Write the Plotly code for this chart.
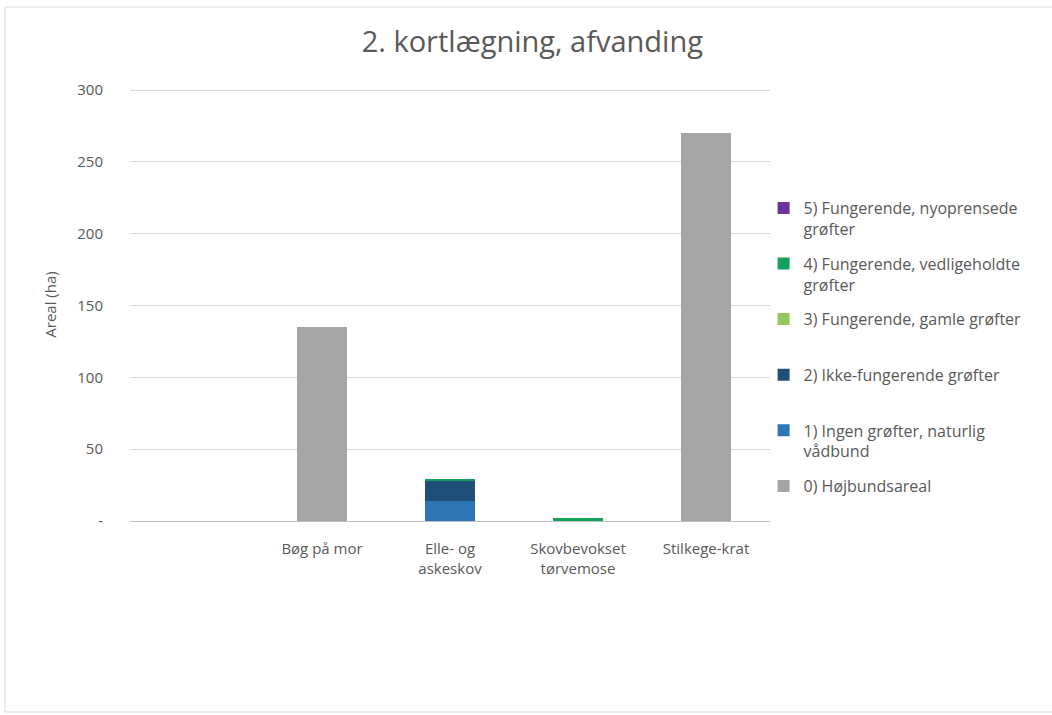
import plotly.graph_objects as go

# Naturtyper (første kategori er tom i kildearket)
categories = ["", "Bøg på mor", "Elle- og<br>askeskov", "Skovbevokset<br>tørvemose", "Stilkege-krat"]

# Areal (ha) pr. afvandingsklasse
hojbund = [0, 135, 0, 0, 270]
ingen_grofter = [0, 0, 14, 0, 0]
ikke_fungerende = [0, 0, 14, 0, 0]
fung_gamle = [0, 0, 0, 0, 0]
fung_vedligeholdte = [0, 0, 0.8, 2, 0]
fung_nyoprensede = [0, 0, 0, 0, 0]

y_ticks = [0, 50, 100, 150, 200, 250, 300]
y_ticktext = ["-", "50", "100", "150", "200", "250", "300"]

series = [
    ("0) Højbundsareal<br> ", hojbund, "#a5a5a5"),
    ("1) Ingen grøfter, naturlig<br>vådbund", ingen_grofter, "#2e75b6"),
    ("2) Ikke-fungerende grøfter<br> ", ikke_fungerende, "#1f4e79"),
    ("3) Fungerende, gamle grøfter<br> ", fung_gamle, "#92c95c"),
    ("4) Fungerende, vedligeholdte<br>grøfter", fung_vedligeholdte, "#17a05d"),
    ("5) Fungerende, nyoprensede<br>grøfter", fung_nyoprensede, "#7030a0"),
]

x_pos = list(range(len(categories)))

FONT = "Open Sans"
GREY_TXT = "#595959"

fig = go.Figure()
n = len(series)
for i, (name, vals, color) in enumerate(series):
    fig.add_trace(go.Bar(
        x=x_pos, y=vals, name=name, marker_color=color,
        marker_line_width=0, legendgroup=f"g{i}",
        legendrank=n - i,  # højeste klasse øverst i forklaringen
    ))

# Plotområde: 0 ved y=521 px, 300 ved y=90 px
TOP, BOTTOM = 88, 521
y_max = 300 * (BOTTOM - TOP) / (BOTTOM - 90)

fig.update_layout(
    barmode="stack",
    bargap=0.61,
    width=1052, height=715,
    margin=dict(l=130, r=282, t=TOP, b=715 - BOTTOM),
    paper_bgcolor="white", plot_bgcolor="white",
    font=dict(family=FONT, color=GREY_TXT, size=14),
    title=dict(
        text="2. kortlægning, afvanding",
        font=dict(family=FONT, size=29, color=GREY_TXT),
        x=0.506, xref="container", xanchor="center",
        y=1 - 42 / 715, yref="container", yanchor="middle",
    ),
    xaxis=dict(
        range=[-0.5, len(categories) - 0.5],
        tickvals=x_pos, ticktext=categories,
        showgrid=False, zeroline=False,
        showline=True, linecolor="#bfbfbf", linewidth=1,
        ticks="", ticklabelstandoff=14,
        tickfont=dict(size=15, color=GREY_TXT),
    ),
    yaxis=dict(
        range=[0, y_max],
        tickvals=y_ticks, ticktext=y_ticktext,
        showgrid=True, gridcolor="#d9d9d9", gridwidth=1,
        zeroline=False, showline=False, ticks="",
        ticklabelstandoff=26,
        tickfont=dict(size=15, color=GREY_TXT),
        title=dict(text="Areal (ha)", font=dict(size=15, color=GREY_TXT), standoff=17),
    ),
    legend=dict(
        x=0.99, xanchor="left", y=(BOTTOM - 191) / (BOTTOM - TOP), yanchor="top",
        traceorder="grouped", tracegroupgap=11,
        valign="top", itemwidth=30,
        font=dict(size=16, color=GREY_TXT),
        bgcolor="rgba(0,0,0,0)",
    ),
    showlegend=True,
)

# Diagramrammen
H = BOTTOM - TOP
fig.add_shape(
    type="rect", xref="paper", yref="paper",
    x0=(5 - 130) / 640, x1=(1062 - 130) / 640,
    y0=(BOTTOM - 712) / H, y1=(BOTTOM - 7) / H,
    line=dict(color="#d9d9d9", width=1), fillcolor="rgba(0,0,0,0)", layer="below",
)

fig.write_html("out.html")
